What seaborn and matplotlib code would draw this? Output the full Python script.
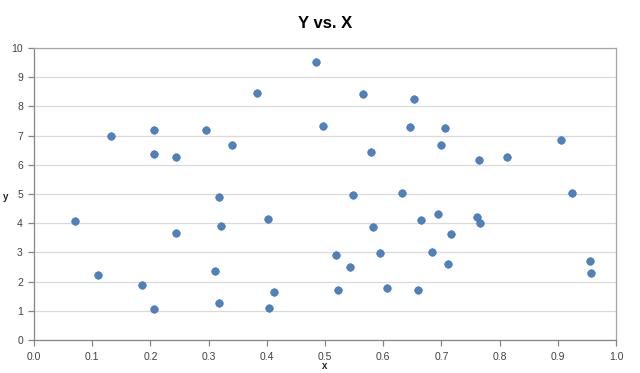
import matplotlib
matplotlib.use('Agg')
import matplotlib.pyplot as plt
import pandas as pd
import seaborn as sns

# Valores
x_vals = [0.070, 0.110, 0.132, 0.186, 0.206, 0.206, 0.206, 0.244, 0.244, 0.296,
          0.311, 0.318, 0.318, 0.321, 0.340, 0.383, 0.402, 0.404, 0.412, 0.485,
          0.497, 0.519, 0.522, 0.543, 0.548, 0.565, 0.579, 0.582, 0.595, 0.607,
          0.632, 0.646, 0.653, 0.660, 0.665, 0.684, 0.694, 0.699, 0.706, 0.711,
          0.716, 0.761, 0.766, 0.765, 0.813, 0.905, 0.924, 0.955, 0.957]
y_vals = [4.07, 2.22, 6.99, 1.88, 7.18, 6.37, 1.05, 6.26, 3.66, 7.20,
          2.37, 4.90, 1.27, 3.90, 6.68, 8.46, 4.15, 1.11, 1.66, 9.53,
          7.33, 2.91, 1.70, 2.49, 4.96, 8.44, 6.44, 3.87, 2.98, 1.78,
          5.05, 7.29, 8.26, 1.70, 4.10, 3.01, 4.31, 6.68, 7.26, 2.61,
          3.63, 4.22, 4.01, 6.16, 6.26, 6.84, 5.04, 2.70, 2.28]
x_ticks = [0.0, 0.1, 0.2, 0.3, 0.4, 0.5, 0.6, 0.7, 0.8, 0.9, 1.0]
y_ticks = [0, 1, 2, 3, 4, 5, 6, 7, 8, 9, 10]

df = pd.DataFrame({'x': x_vals, 'y': y_vals})

sns.set_style('white')
plt.rcParams['font.family'] = ['Liberation Sans', 'DejaVu Sans']

fig = plt.figure(figsize=(6.4, 3.73), dpi=100)
ax = fig.add_axes([34 / 640, 33 / 373, 582 / 640, 292 / 373])

sns.scatterplot(data=df, x='x', y='y', ax=ax, s=30, color='#4F81BD',
                edgecolor='#3F70AA', linewidth=0.4, zorder=3)

ax.set_xlim(0, 1)
ax.set_ylim(0, 10)
ax.set_xticks(x_ticks)
ax.set_xticklabels([f'{t:.1f}' for t in x_ticks])
ax.set_yticks(y_ticks)
ax.set_yticklabels([str(t) for t in y_ticks])

# Grade horizontal estilo Excel
ax.grid(axis='y', color='#D9D9D9', linewidth=0.9)
ax.grid(axis='x', visible=False)

for side in ['left', 'bottom']:
    ax.spines[side].set_color('#868686')
    ax.spines[side].set_linewidth(0.9)
for side in ['top', 'right']:
    ax.spines[side].set_color('#A6A6A6')
    ax.spines[side].set_linewidth(0.9)

ax.tick_params(axis='both', direction='out', length=4, width=0.9,
               color='#868686', labelsize=7.5, labelcolor='#404040', pad=4)
ax.tick_params(axis='y', left=True)
ax.tick_params(axis='x', bottom=True, pad=5)

ax.set_xlabel('')
ax.set_ylabel('')
fig.text(325 / 640, 1 - 366 / 373, 'x', fontsize=7, fontweight='bold',
         ha='center', va='center', color='#262626')
fig.text(6 / 640, 1 - 197 / 373, 'y', fontsize=7, fontweight='bold',
         ha='center', va='center', color='#262626')
fig.text(325 / 640, 1 - 23 / 373, 'Y vs. X', fontsize=12, fontweight='bold',
         ha='center', va='center', color='#000000')

fig.savefig('out.png', dpi=100)
